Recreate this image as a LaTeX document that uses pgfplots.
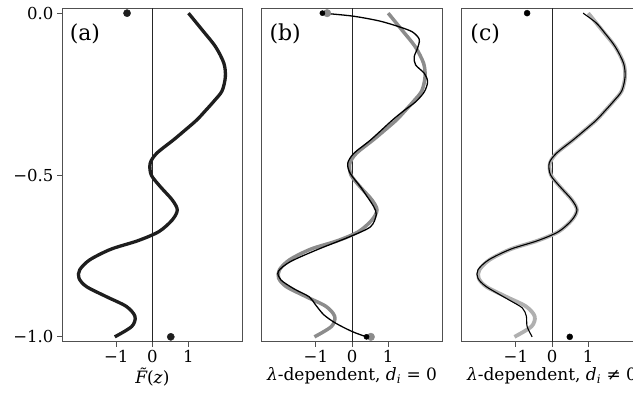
\documentclass[border=0pt]{standalone}
\usepackage{fontspec}
\setmainfont{DejaVu Serif}
\usepackage{pgfplots}
\pgfplotsset{compat=1.18}
\definecolor{framec}{HTML}{505050}
\definecolor{curvea}{HTML}{1E1E1E}
\definecolor{grayb}{HTML}{8C8C8C}
\definecolor{grayc}{HTML}{B0B0B0}
\pgfplotstableread{
x y
1.00 0.000
1.38 -0.052
1.75 -0.104
1.98 -0.155
2.02 -0.197
1.93 -0.240
1.72 -0.270
1.48 -0.300
1.23 -0.330
0.90 -0.362
0.58 -0.392
0.12 -0.433
-0.06 -0.464
-0.03 -0.500
0.22 -0.536
0.55 -0.577
0.69 -0.608
0.55 -0.639
0.18 -0.675
-0.40 -0.703
-1.14 -0.729
-1.73 -0.762
-2.01 -0.793
-2.03 -0.819
-1.82 -0.845
-1.27 -0.876
-0.72 -0.906
-0.48 -0.937
-0.57 -0.968
-1.04 -1.000
}\truecurve
\pgfplotstableread{
x y
-0.82 0.000
0.01 -0.009
0.75 -0.024
1.30 -0.042
1.67 -0.058
1.86 -0.081
1.81 -0.109
1.72 -0.135
1.76 -0.160
2.00 -0.186
2.09 -0.212
2.00 -0.243
1.76 -0.274
1.45 -0.300
1.12 -0.330
0.51 -0.392
0.05 -0.433
-0.12 -0.464
-0.05 -0.495
0.23 -0.536
0.42 -0.567
0.60 -0.598
0.67 -0.623
0.51 -0.660
-0.05 -0.690
-0.97 -0.731
-1.71 -0.768
-2.04 -0.798
-1.97 -0.824
-1.60 -0.852
-1.19 -0.876
-1.01 -0.901
-0.78 -0.932
-0.45 -0.958
0.01 -0.984
0.40 -1.000
}\bcurve
\pgfplotstableread{
x y
0.86 0.000
1.22 -0.030
1.45 -0.060
1.75 -0.104
1.98 -0.155
2.02 -0.197
1.93 -0.240
1.72 -0.270
1.48 -0.300
1.23 -0.330
0.90 -0.362
0.58 -0.392
0.12 -0.433
-0.08 -0.464
-0.04 -0.500
0.22 -0.536
0.55 -0.577
0.69 -0.608
0.55 -0.639
0.18 -0.675
-0.40 -0.703
-1.14 -0.729
-1.75 -0.762
-2.05 -0.793
-2.05 -0.819
-1.82 -0.845
-1.19 -0.886
-0.82 -0.911
-0.71 -0.937
-0.69 -0.968
-0.55 -1.000
}\ccurve
\tikzset{plab/.style={font=\fontsize{22}{26}\selectfont, anchor=center}}
\begin{document}
\begin{tikzpicture}
\pgfplotsset{
 panel/.style={
  scale only axis, width=180.7pt, height=333.4pt,
  xmin=-2.5, xmax=2.5, ymin=-1.015, ymax=0.015,
  anchor=south west,
  axis line style={framec, line width=0.9pt},
  tick align=outside, major tick length=5pt,
  tick style={framec, line width=0.9pt},
  xtick={-1,0,1}, xticklabels={−1,0,1},
  xtick pos=lower, ytick pos=left,
  ytick=\empty,
  ticklabel style={font=\fontsize{16.5}{19}\selectfont},
  label style={font=\fontsize{17}{20}\selectfont},
  xlabel style={yshift=2pt},
 },
 zeroline/.style={black!85, line width=0.7pt},
}
% (a)
\begin{axis}[panel, at={(62pt,54.3pt)},
  ytick={-1,-0.5,0}, yticklabels={−1.0,−0.5,0.0},
  xlabel={\textit{F̃}(\textit{z})}]
\addplot[zeroline] coordinates {(0,-1.015) (0,0.015)};
\addplot[curvea, line width=3.3pt, smooth] table[x=x,y=y] {\truecurve};
\addplot[only marks, mark=*, mark size=3.6pt, curvea] coordinates {(-0.70,0) (0.51,-1)};
\node[plab] at (rel axis cs:0.127,0.923) {(a)};
\end{axis}
% (b)
\begin{axis}[panel, at={(261.7pt,54.3pt)},
  xlabel={\textit{λ}-dependent, \textit{d}\textsubscript{\textit{i}} = 0}]
\addplot[zeroline] coordinates {(0,-1.015) (0,0.015)};
\addplot[grayb, line width=3.5pt, smooth] table[x=x,y=y] {\truecurve};
\addplot[only marks, mark=*, mark size=3.8pt, grayb] coordinates {(-0.69,0) (0.52,-1)};
\addplot[black, line width=1.3pt, smooth] table[x=x,y=y] {\bcurve};
\addplot[only marks, mark=*, mark size=2.6pt, black] coordinates {(-0.82,0) (0.40,-1)};
\node[plab] at (rel axis cs:0.13,0.923) {(b)};
\end{axis}
% (c)
\begin{axis}[panel, at={(461.7pt,54.3pt)},
  xlabel={\textit{λ}-dependent, \textit{d}\textsubscript{\textit{i}} ≠ 0}]
\addplot[zeroline] coordinates {(0,-1.015) (0,0.015)};
\addplot[grayc, line width=3.8pt, smooth] table[x=x,y=y] {\truecurve};
\addplot[black, line width=1.1pt, smooth] table[x=x,y=y] {\ccurve};
\addplot[only marks, mark=*, mark size=3.0pt, black] coordinates {(-0.69,0) (0.49,-1)};
\node[plab] at (rel axis cs:0.13,0.923) {(c)};
\end{axis}
\pgfresetboundingbox
\path[use as bounding box] (0pt,0pt) rectangle (633pt,396pt);
\end{tikzpicture}
\end{document}
